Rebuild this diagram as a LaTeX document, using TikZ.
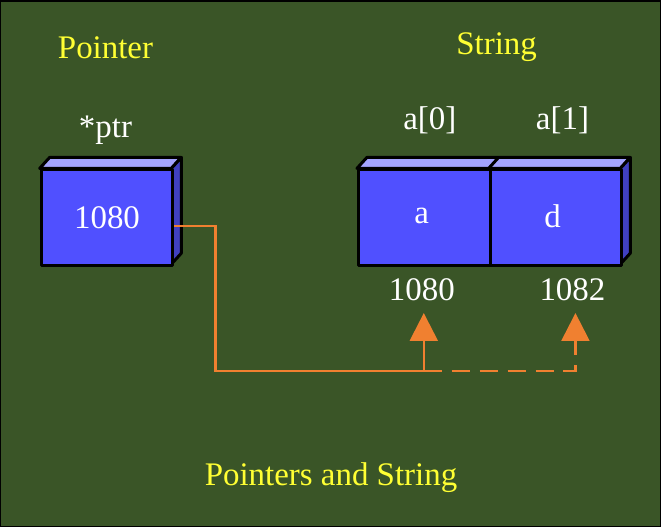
\documentclass[tikz,border=0pt]{standalone}
\usepackage{fontspec}
\setmainfont{Liberation Serif}
\usetikzlibrary{arrows.meta}
\definecolor{bg}{HTML}{3A5527}
\definecolor{front}{HTML}{5050FF}
\definecolor{topc}{HTML}{A4A4FF}
\definecolor{side}{HTML}{4040C0}
\definecolor{ora}{HTML}{F08030}
\definecolor{yel}{HTML}{FFFF33}
\begin{document}
\begin{tikzpicture}[x=1pt,y=-1pt,
  box/.style={draw=black,line width=3pt,fill=front,line join=round},
  ytext/.style={text=yel,font=\fontsize{33}{35}\selectfont},
  wtext/.style={text=white,font=\fontsize{33}{35}\selectfont},
  con/.style={draw=ora,line width=2.5pt},
  tip/.style={-{Triangle[length=28pt,width=28pt]}}]
\fill[bg,draw=black,line width=1.5pt] (0,0) rectangle (661,527);
\useasboundingbox (0,0) rectangle (661,527);
\newcommand\cube[4]{% x1 x2 y1 y2
  \filldraw[fill=topc,draw=black,line width=3pt,line join=round] (#1,#3) -- ++(10,-11) -- (#2+10,#3-11) -- (#2,#3) -- cycle;
  \filldraw[fill=side,draw=black,line width=3pt,line join=round] (#2,#3) -- ++(10,-11) -- (#2+10,#4-11) -- (#2,#4) -- cycle;}
\cube{39}{171}{168}{264}
\node[box,minimum width=132pt,minimum height=96pt,anchor=north west] (p) at (39,168) {};
\node[wtext] (pv) at (p.center) {1080};
\cube{357}{621}{168}{264}
\draw[black,line width=3pt] (489,168) -- (499,157);
\node[box,minimum width=132pt,minimum height=96pt,anchor=north west] (s0) at (357,168) {};
\node[box,minimum width=132pt,minimum height=96pt,anchor=north west] (s1) at (489,168) {};
\node[wtext] (va) at (422,216) {a};
\node[wtext] (vd) at (553,216) {d};
\node[ytext] (t1) at (105,47) {Pointer};
\node[ytext] (t2) at (497,47) {String};
\node[wtext] (t3) at (105,130) {*ptr};
\node[wtext] (t4) at (430,120) {a[0]};
\node[wtext] (t5) at (563,120) {a[1]};
\node[wtext] (ad0) at (422,290) {1080};
\node[wtext] (ad1) at (573,290) {1082};
\node[ytext] (cap) at (331,478) {Pointers and String};
\coordinate (c1) at (424,371);
\coordinate (h0) at (424,313);
\coordinate (h1) at (576,313);
\draw[con,tip] (p.east |- 0,226) -- (215,226) -- (215,371) -- (c1) -- (h0);
\draw[con,dashed,dash pattern=on 18pt off 10pt] (c1) -- (576,371) -- (576,345);
\draw[con,tip] (576,345) -- (h1);
\end{tikzpicture}
\end{document}
